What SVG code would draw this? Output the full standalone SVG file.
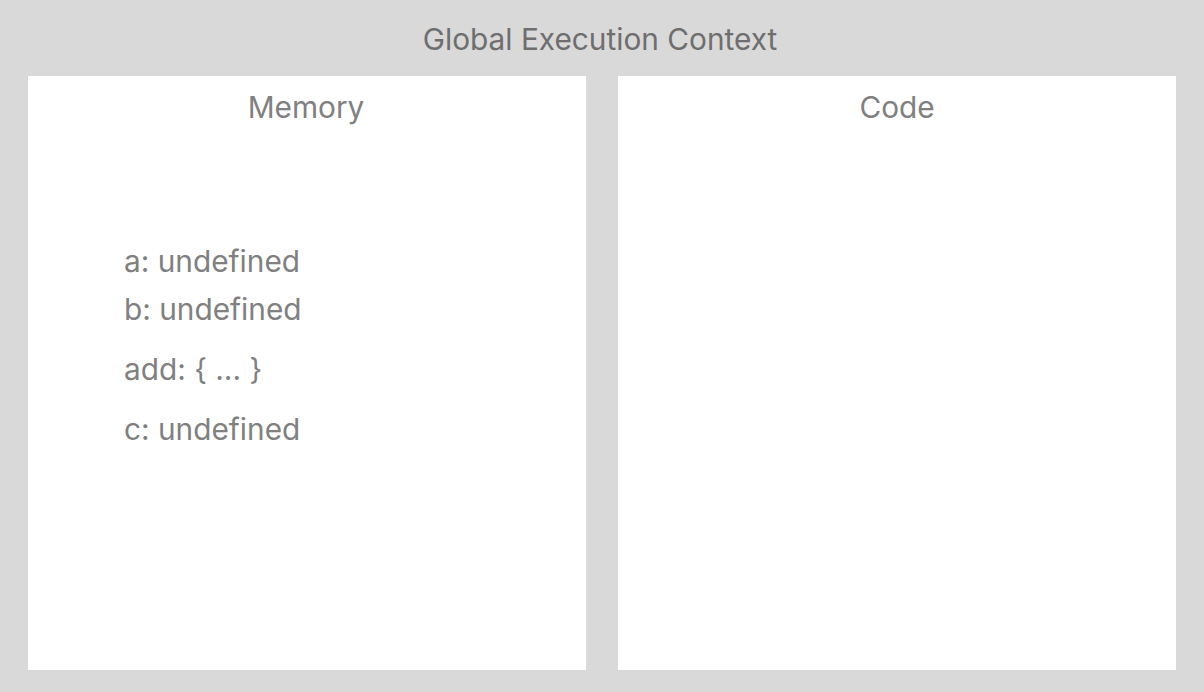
<svg xmlns="http://www.w3.org/2000/svg" width="1204" height="692" viewBox="0 0 1204 692">
<style>
.t{font-family:Inter,"Noto Sans",sans-serif;font-size:29.8px;fill:#6e6e6e}
.h{text-anchor:middle}
.m{fill:#808080}
.p{fill:#ffffff}
</style>
<rect x="0" y="0" width="1204" height="692" fill="#d9d9d9"/>
<g id="gec"><text class="t h" x="600" y="50">Global Execution Context</text></g>
<g id="memory">
<rect class="p" x="28" y="76" width="558" height="594"/>
<text class="t h m" x="306" y="118">Memory</text>
<text class="t m" x="124" y="272">a: undefined</text>
<text class="t m" x="124" y="320">b: undefined</text>
<text class="t m" x="124" y="380">add: { ... }</text>
<text class="t m" x="124" y="440">c: undefined</text>
</g>
<g id="code">
<rect class="p" x="618" y="76" width="558" height="594"/>
<text class="t h m" x="897" y="118">Code</text>
</g>
<g id="connectors"/>
</svg>
